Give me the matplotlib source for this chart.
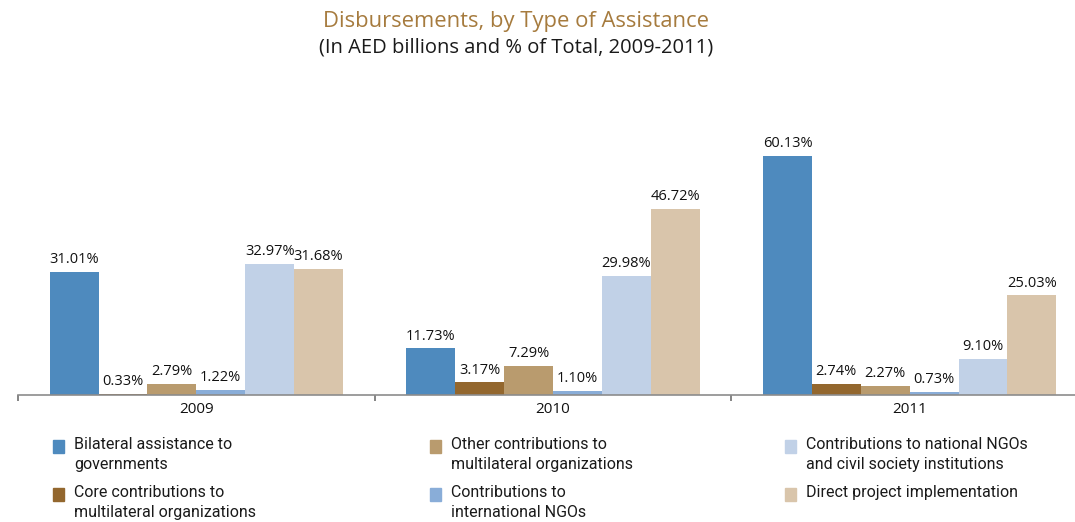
import numpy as np
import matplotlib.pyplot as plt
from matplotlib.patches import Rectangle

years = ['2009', '2010', '2011']
series = [
    'Bilateral assistance to\ngovernments',
    'Core contributions to\nmultilateral organizations',
    'Other contributions to\nmultilateral organizations',
    'Contributions to\ninternational NGOs',
    'Contributions to national NGOs\nand civil society institutions',
    'Direct project implementation',
]
values = [
    [31.01, 11.73, 60.13],
    [0.33, 3.17, 2.74],
    [2.79, 7.29, 2.27],
    [1.22, 1.10, 0.73],
    [32.97, 29.98, 9.10],
    [31.68, 46.72, 25.03],
]
colors = ['#4E8ABE', '#93672E', '#B99B6E', '#89ADD8', '#C1D1E7', '#D9C5AB']

W, H = 1075, 522
fig = plt.figure(figsize=(W / 100, H / 100), dpi=100)

# axes placed in pixel terms: x 18..1088, y 100..395
ax = fig.add_axes([18 / W, (H - 395) / H, (1088 - 18) / W, (395 - 100) / H])
ax.set_xlim(-0.5, 2.5)
ax.set_ylim(0, 74.1)

x = np.arange(len(years))
bw = 0.137
for i, (vals, col) in enumerate(zip(values, colors)):
    xs = x + (i - 2.5) * bw
    ax.bar(xs, vals, width=bw, color=col, edgecolor='none')
    for xb, v in zip(xs, vals):
        ax.text(xb, v + 1.2, f'{v:.2f}%', ha='center', va='bottom',
                fontsize=10.5, color='#111111', family='Open Sans')

for s in ['top', 'right', 'left']:
    ax.spines[s].set_visible(False)
ax.spines['bottom'].set_color('#8c8c8c')
ax.spines['bottom'].set_linewidth(1.2)
ax.set_yticks([])
ax.set_xticks([-0.5, 0.5, 1.5, 2.5])
ax.set_xticklabels([])
ax.set_xticks(x, minor=True)
ax.set_xticklabels(years, minor=True, fontsize=11, family='Open Sans', color='#111111')
ax.tick_params(axis='x', which='major', length=4, color='#707070', width=1.2)
ax.tick_params(axis='x', which='minor', length=0, pad=5)

cx_title = 516 / W
fig.text(cx_title, 1 - 22 / H, 'Disbursements, by Type of Assistance', ha='center', va='center',
         fontsize=15.8, color='#A67B3E', family='Open Sans')
fig.text(cx_title, 1 - 48 / H, '(In AED billions and % of Total, 2009-2011)', ha='center', va='center',
         fontsize=14.5, color='#1a1a1a', family='Open Sans')

# legend, column-major
col_x = [53, 430, 785]
row_y = [440, 488]
for i, (lab, col) in enumerate(zip(series, colors)):
    cx = col_x[i // 2]
    ry = row_y[i % 2]
    fig.patches.append(Rectangle((cx / W, 1 - (ry + 13) / H), 11 / W, 13 / H,
                                 transform=fig.transFigure, color=col, figure=fig))
    fig.text((cx + 21) / W, 1 - (ry - 3) / H, lab, ha='left', va='top',
             fontsize=11.5, color='#1a1a1a', family='Roboto', linespacing=1.4)

fig.savefig('out.png', dpi=100)
